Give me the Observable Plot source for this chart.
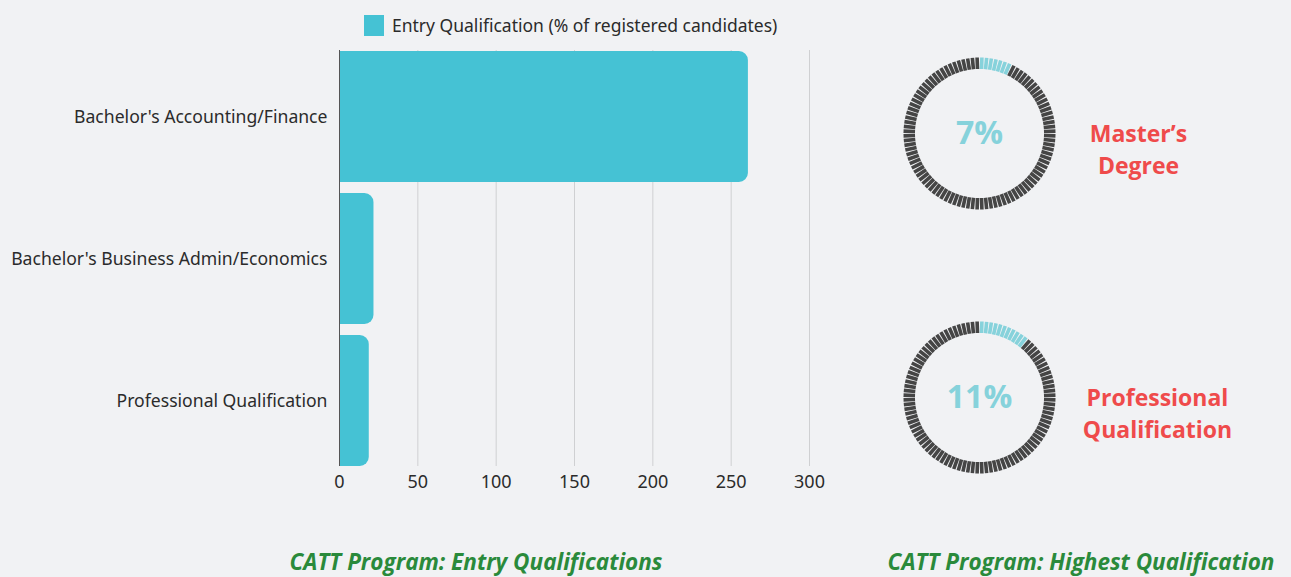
<!DOCTYPE html>
<html>
<head>
<meta charset="utf-8">
<script src="https://cdn.jsdelivr.net/npm/d3@7"></script>
<script src="https://cdn.jsdelivr.net/npm/@observablehq/plot@0.6"></script>
<style>
  html, body { margin: 0; padding: 0; background: #f1f2f4; }
  #root { position: relative; width: 1291px; height: 577px; background: #f1f2f4; overflow: hidden; font-family: "Noto Sans", sans-serif; }
  .abs { position: absolute; }
  .legend { left: 364px; top: 13px; display: flex; align-items: center; font-size: 17.5px; color: #2b2b2b; }
  .legend .sw { width: 20px; height: 21px; background: #45c2d4; margin-right: 8px; }
  .caption { top: 546px; font-family: "Open Sans", sans-serif; font-weight: 700; font-style: italic; font-size: 22.5px; color: #2a8a3b; white-space: nowrap; transform: translateX(-50%); }
</style>
</head>
<body>
<div id="root"></div>
<script>
// ---- data ----
const categories = ["Bachelor's Accounting/Finance", "Bachelor's Business Admin/Economics", "Professional Qualification"];
const values = [261, 22, 19];
const xTicks = [0, 50, 100, 150, 200, 250, 300];
const legendLabel = "Entry Qualification (% of registered candidates)";

const donutLabels = ["Master\u2019s\nDegree", "Professional\nQualification"];
const donutPercents = [7, 11];

const captions = ["CATT Program: Entry Qualifications", "CATT Program: Highest Qualification"];

// ---- build ----
const root = document.getElementById("root");
const barData = categories.map((c, i) => ({category: c, value: values[i]}));

const barPlot = Plot.plot({
  width: 839,
  height: 500,
  marginLeft: 339,
  marginRight: 30,
  marginTop: 50,
  marginBottom: 34,
  style: {background: "transparent", fontFamily: "Noto Sans, sans-serif"},
  x: {domain: [0, 300]},
  y: {domain: categories, paddingInner: 0.08, paddingOuter: 0},
  marks: [
    Plot.gridX(xTicks, {stroke: "#cfd0d2", strokeOpacity: 1}),
    Plot.barX(barData, {y: "category", x: "value", fill: "#45c2d4", rx2: 9}),
    Plot.ruleX([0], {stroke: "#555", strokeWidth: 1}),
    Plot.axisX({ticks: xTicks, tickSize: 0, tickPadding: 9, fontSize: 18, fill: "#2b2b2b", label: null}),
    Plot.axisY({tickSize: 0, tickPadding: 12, fontSize: 17.6, fill: "#2b2b2b", label: null})
  ]
});
barPlot.classList.add("abs");
barPlot.style.left = "0px";
barPlot.style.top = "0px";
root.appendChild(barPlot);

// legend
const leg = document.createElement("div");
leg.className = "abs legend";
leg.innerHTML = `<div class="sw"></div><span>${legendLabel}</span>`;
root.appendChild(leg);

// donuts
const nSeg = 100;
const rIn = 64.5, rOut = 76;
const donutTops = [43, 307];
const labelX = [159, 178];
donutPercents.forEach((pct, k) => {
  const segs = d3.range(nSeg).map(i => {
    const a = (i + 0.5) / nSeg * 2 * Math.PI;
    return {
      x1: rIn * Math.sin(a), y1: rIn * Math.cos(a),
      x2: rOut * Math.sin(a), y2: rOut * Math.cos(a),
      on: i < pct
    };
  });
  const p = Plot.plot({
    width: 400, height: 180, margin: 0,
    style: {background: "transparent", fontFamily: "Open Sans, sans-serif"},
    x: {domain: [-90, 310], axis: null},
    y: {domain: [-90, 90], axis: null},
    marks: [
      Plot.link(segs, {x1: "x1", y1: "y1", x2: "x2", y2: "y2",
        stroke: d => d.on ? "#86d2db" : "#454545", strokeWidth: 3.6, strokeLinecap: "butt"}),
      Plot.text([pct], {x: 0, y: 0, text: d => d + "%", fontSize: 32, fontWeight: 700, fill: "#86d2db"}),
      Plot.text([donutLabels[k]], {x: labelX[k], y: -14.5, text: d => d, fontSize: 23, fontWeight: 700, fill: "#ef4b4b", lineHeight: 1.36})
    ]
  });
  p.classList.add("abs");
  p.style.left = "889px";
  p.style.top = donutTops[k] + "px";
  root.appendChild(p);
});

// captions
const capX = [476, 1081];
captions.forEach((c, i) => {
  const d = document.createElement("div");
  d.className = "abs caption";
  d.style.left = capX[i] + "px";
  d.textContent = c;
  root.appendChild(d);
});
</script>
</body>
</html>
